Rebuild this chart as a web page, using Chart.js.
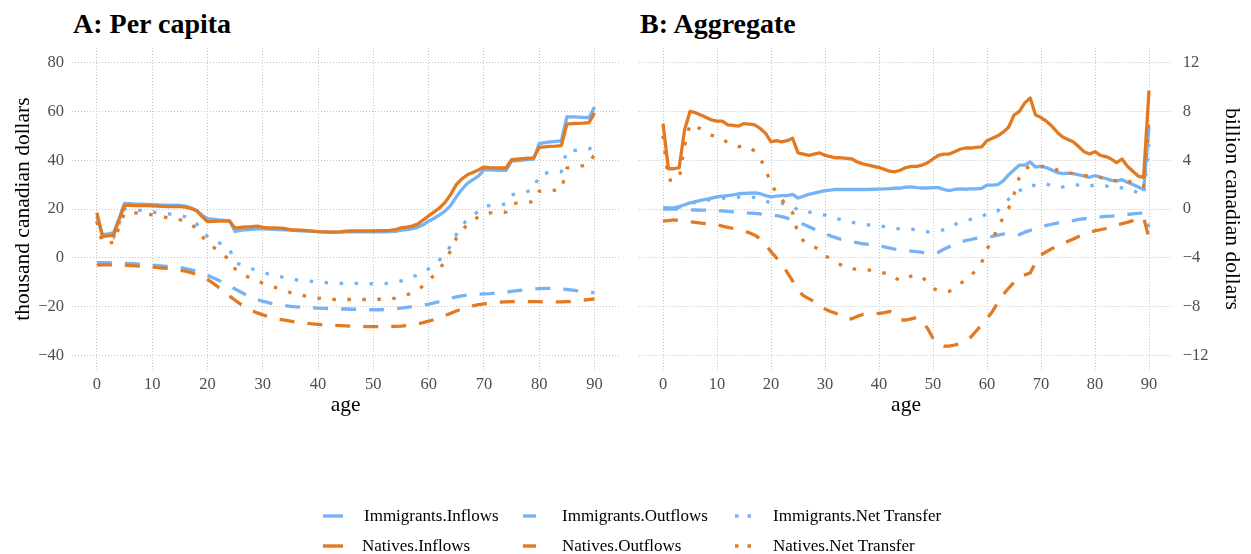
<!DOCTYPE html>
<html>
<head>
<meta charset="utf-8">
<script src="https://cdn.jsdelivr.net/npm/chart.js@4.4.1/dist/chart.umd.min.js"></script>
<style>
  html, body { margin: 0; padding: 0; background: #fff; }
  body { width: 1251px; height: 554px; position: relative; overflow: hidden;
         font-family: 'Liberation Serif', 'DejaVu Serif', serif; }
  canvas { position: absolute; top: 0; }
  #cA { left: 0; }
  #cB { left: 625px; }
  .ptitle { position: absolute; top: 10px; font-size: 28px; font-weight: bold; line-height: 28px; color: #000; white-space: nowrap; }
  .leg { position: absolute; font-size: 17px; line-height: 20px; height: 20px; color: #000; white-space: nowrap; }
  svg.key { position: absolute; left: 0; top: 0; }
</style>
</head>
<body>
<div class="ptitle" style="left:73px">A: Per capita</div>
<div class="ptitle" style="left:640px">B: Aggregate</div>
<canvas id="cA" width="625" height="420"></canvas>
<canvas id="cB" width="626" height="420"></canvas>

<svg class="key" width="1251" height="554">
  <g stroke-width="3.4" fill="none">
    <line x1="323" y1="516" x2="343" y2="516" stroke="#75b3f5"/>
    <line x1="323" y1="546" x2="343" y2="546" stroke="#e27a22"/>
    <line x1="523" y1="516" x2="541" y2="516" stroke="#75b3f5" stroke-dasharray="13 20"/>
    <line x1="523" y1="546" x2="541" y2="546" stroke="#e27a22" stroke-dasharray="13 20"/>
    <line x1="735" y1="516" x2="755" y2="516" stroke="#75b3f5" stroke-dasharray="3.5 9"/>
    <line x1="735" y1="546" x2="755" y2="546" stroke="#e27a22" stroke-dasharray="3.5 9"/>
  </g>
</svg>
<div class="leg" style="left:364px; top:506px">Immigrants.Inflows</div>
<div class="leg" style="left:362px; top:536px">Natives.Inflows</div>
<div class="leg" style="left:562px; top:506px">Immigrants.Outflows</div>
<div class="leg" style="left:562px; top:536px">Natives.Outflows</div>
<div class="leg" style="left:773px; top:506px">Immigrants.Net Transfer</div>
<div class="leg" style="left:773px; top:536px">Natives.Net Transfer</div>

<script>
// ---- ages ----
const ages = [
  0, 1, 2, 3, 4, 5, 6, 7, 8, 9,
  10, 11, 12, 13, 14, 15, 16, 17, 18, 19,
  20, 21, 22, 23, 24, 25, 26, 27, 28, 29,
  30, 31, 32, 33, 34, 35, 36, 37, 38, 39,
  40, 41, 42, 43, 44, 45, 46, 47, 48, 49,
  50, 51, 52, 53, 54, 55, 56, 57, 58, 59,
  60, 61, 62, 63, 64, 65, 66, 67, 68, 69,
  70, 71, 72, 73, 74, 75, 76, 77, 78, 79,
  80, 81, 82, 83, 84, 85, 86, 87, 88, 89,
  90
];

// ---- panel A: per capita, thousand canadian dollars ----
const pcImmInflows = [
  17, 9.5, 9.8, 10.2, 16, 22.3, 22.2, 22, 22, 21.9,
  21.8, 21.7, 21.6, 21.6, 21.6, 21.5, 21.2, 20.5, 19.5, 17.5,
  16, 15.8, 15.5, 15.3, 15.2, 10.8, 11.2, 11.5, 11.7, 11.9,
  11.9, 11.8, 11.7, 11.6, 11.5, 11.3, 11.1, 11, 10.9, 10.8,
  10.7, 10.6, 10.5, 10.5, 10.5, 10.6, 10.6, 10.6, 10.6, 10.6,
  10.6, 10.6, 10.6, 10.7, 10.8, 11.3, 11.6, 11.9, 12.5, 13.5,
  15, 16.2, 17.6, 19.2, 21.5, 25, 28, 30.5, 32, 33.5,
  36, 36, 35.9, 35.8, 35.8, 39.6, 39.8, 40, 40.2, 40.5,
  46.8, 47.2, 47.5, 47.7, 47.9, 57.8, 57.8, 57.7, 57.6, 57.4,
  61.8
];
const pcNatInflows = [
  18.5, 8.8, 9, 9.2, 15.5, 21.5, 21.5, 21.4, 21.4, 21.4,
  21.3, 21.2, 21.1, 21, 21, 21, 20.8, 20.2, 19.3, 17,
  14.8, 14.9, 15, 15, 15, 12.2, 12.5, 12.7, 12.8, 13,
  12.5, 12.3, 12.3, 12.2, 12, 11.5, 11.4, 11.3, 11.1, 10.9,
  10.7, 10.6, 10.5, 10.5, 10.6, 10.9, 11, 11, 11, 11,
  11, 11.1, 11.1, 11.2, 11.5, 12.3, 12.6, 13, 13.8, 15.5,
  17.2, 18.8, 20.5, 22.8, 26, 30, 32.3, 34, 35, 36,
  37.2, 37, 36.9, 36.8, 36.8, 40.2, 40.4, 40.6, 40.8, 41,
  45.3, 45.5, 45.7, 45.8, 46, 54.8, 55, 55.1, 55.2, 55.4,
  59.4
];
const pcImmOutflows = [
  -2, -2, -2, -2.1, -2.2, -2.3, -2.4, -2.5, -2.6, -2.8,
  -3, -3.2, -3.4, -3.6, -3.8, -4, -4.4, -4.9, -5.5, -6.3,
  -7.2, -8.2, -9.2, -10.4, -11.6, -12.8, -14, -15.2, -16.2, -17.1,
  -17.8, -18.4, -18.9, -19.3, -19.6, -19.9, -20.1, -20.3, -20.4, -20.5,
  -20.6, -20.7, -20.8, -20.9, -21, -21, -21.1, -21.1, -21.2, -21.2,
  -21.3, -21.3, -21.2, -21.1, -20.9, -20.6, -20.3, -20, -19.7, -19.4,
  -19, -18.5, -17.9, -17.2, -16.6, -16, -15.6, -15.3, -15.1, -14.9,
  -14.8, -14.7, -14.5, -14.3, -14.1, -13.8, -13.5, -13.2, -13, -12.8,
  -12.6, -12.5, -12.5, -12.6, -12.8, -13, -13.3, -13.6, -13.9, -14.1,
  -14.3
];
const pcNatOutflows = [
  -3, -2.9, -2.9, -2.9, -3, -3.1, -3.2, -3.3, -3.4, -3.6,
  -3.8, -4, -4.2, -4.4, -4.7, -5.1, -5.5, -6.1, -6.8, -7.7,
  -8.9, -10.4, -12.1, -13.9, -15.7, -17.4, -19, -20.4, -21.6, -22.6,
  -23.4, -24.1, -24.7, -25.2, -25.6, -26, -26.3, -26.6, -26.9, -27.1,
  -27.3, -27.5, -27.6, -27.7, -27.8, -27.9, -28, -28.1, -28.1, -28.2,
  -28.2, -28.2, -28.2, -28.2, -28.1, -28, -27.8, -27.5, -27.1, -26.6,
  -26, -25.3, -24.5, -23.6, -22.7, -21.8, -21, -20.3, -19.7, -19.2,
  -18.9, -18.6, -18.4, -18.2, -18.1, -18, -18, -18, -18, -18,
  -18, -18.1, -18.1, -18.1, -18.1, -18, -17.9, -17.7, -17.4, -17.1,
  -16.8
];
const pcImmNet = [
  15, 7.5, 7.8, 8.1, 13.8, 20, 19.8, 19.5, 19.4, 19.1,
  18.8, 18.5, 18.2, 18, 17.8, 17.5, 16.8, 15.6, 14, 11.2,
  8.8, 7.6, 6.3, 4.9, 3.6, -2, -2.8, -3.7, -4.5, -5.2,
  -5.9, -6.6, -7.2, -7.7, -8.1, -8.6, -9, -9.3, -9.5, -9.7,
  -9.9, -10.1, -10.3, -10.4, -10.5, -10.4, -10.5, -10.5, -10.6, -10.6,
  -10.7, -10.7, -10.6, -10.4, -10.1, -9.5, -8.8, -7.9, -7, -6.2,
  -4.5, -2.8, -0.8, 1.5, 5, 9.5, 13, 15.8, 17.5, 19,
  21.2, 21.4, 21.6, 21.8, 22, 25.8, 26.3, 26.8, 27.3, 27.8,
  34.2, 34.6, 35, 35.2, 35.3, 44, 44, 44.1, 44.3, 44.6,
  45.8
];
const pcNatNet = [
  15, 6, 6, 6.3, 12.5, 18.4, 18.4, 18.4, 18.2, 17.9,
  17.6, 17.1, 16.7, 16.4, 16, 15.6, 14.9, 13.8, 12, 9,
  6, 4.5, 2.7, 0.9, -0.7, -4.6, -6.2, -7.5, -8.6, -9.4,
  -10.4, -11.2, -12, -12.6, -13.3, -14.3, -14.8, -15.3, -15.8, -16.2,
  -16.5, -16.8, -17, -17.1, -17.1, -17.1, -17.1, -17.1, -17.1, -17.1,
  -17.1, -17, -17, -16.9, -16.5, -15.7, -15.2, -14.5, -13.3, -11.5,
  -9.5, -7, -4.5, -1.2, 3, 8, 11, 13.7, 15.3, 16.8,
  18.2, 18.4, 18.5, 18.6, 18.7, 22.2, 22.4, 22.6, 22.8, 23,
  27.3, 27.4, 27.6, 27.7, 27.9, 36.8, 37.1, 37.4, 37.8, 38.3,
  42.6
];

// ---- panel B: aggregate, billion canadian dollars ----
const agImmInflows = [
  0.1, 0.1, 0.1, 0.2, 0.35, 0.5, 0.6, 0.7, 0.8, 0.9,
  1.0, 1.05, 1.1, 1.15, 1.25, 1.28, 1.3, 1.32, 1.25, 1.1,
  1.0, 1.05, 1.1, 1.1, 1.2, 0.9, 1.05, 1.2, 1.3, 1.4,
  1.5, 1.55, 1.6, 1.6, 1.6, 1.6, 1.6, 1.6, 1.6, 1.62,
  1.63, 1.65, 1.67, 1.7, 1.72, 1.8, 1.82, 1.75, 1.72, 1.72,
  1.75, 1.75, 1.6, 1.5, 1.6, 1.65, 1.62, 1.65, 1.65, 1.7,
  1.95, 1.95, 2.0, 2.3, 2.8, 3.2, 3.6, 3.6, 3.85, 3.45,
  3.5, 3.4, 3.2, 3.0, 2.9, 2.95, 2.9, 2.8, 2.7, 2.6,
  2.75, 2.6, 2.5, 2.35, 2.3, 2.4, 2.2, 2.0, 1.8, 1.6,
  6.7
];
const agNatInflows = [
  7, 3.3, 3.3, 3.4, 6.5, 8, 7.9, 7.7, 7.5, 7.3,
  7.2, 7.2, 6.9, 6.85, 6.8, 7, 6.95, 6.9, 6.6, 6.2,
  5.5, 5.6, 5.5, 5.6, 5.8, 4.6, 4.5, 4.4, 4.5, 4.6,
  4.4, 4.3, 4.2, 4.2, 4.15, 4.1, 3.85, 3.7, 3.6, 3.5,
  3.4, 3.25, 3.1, 3.05, 3.2, 3.4, 3.5, 3.5, 3.6, 3.8,
  4.1, 4.4, 4.5, 4.5, 4.7, 4.9, 5.0, 5.0, 5.05, 5.1,
  5.6, 5.8, 6.0, 6.3, 6.7, 7.7, 8.0, 8.7, 9.1, 7.7,
  7.5, 7.2, 6.8, 6.3, 5.9, 5.7, 5.5, 5.1, 4.7, 4.5,
  4.7, 4.4, 4.3, 4.1, 3.8, 4.1, 3.5, 3.1, 2.7, 2.6,
  9.7
];
const agImmOutflows = [
  0, 0, 0, -0.02, -0.05, -0.07, -0.08, -0.1, -0.1, -0.12,
  -0.14, -0.16, -0.2, -0.23, -0.26, -0.3, -0.33, -0.36, -0.4, -0.45,
  -0.5, -0.55, -0.62, -0.75, -0.9, -1.05, -1.25, -1.45, -1.65, -1.85,
  -2.0, -2.2, -2.35, -2.5, -2.6, -2.7, -2.75, -2.85, -2.9, -2.95,
  -3.0, -3.1, -3.2, -3.3, -3.35, -3.4, -3.45, -3.5, -3.55, -3.6,
  -3.6, -3.55, -3.3, -3.1, -2.9, -2.7, -2.6, -2.5, -2.4, -2.35,
  -2.3, -2.25, -2.15, -2.05, -2.0, -2.05, -2.1, -1.9, -1.75, -1.6,
  -1.45, -1.35, -1.25, -1.15, -1.05, -1.0, -0.95, -0.85, -0.8, -0.75,
  -0.7, -0.65, -0.6, -0.58, -0.55, -0.5, -0.45, -0.4, -0.35, -0.3,
  -1.5
];
const agNatOutflows = [
  -1, -0.95, -0.9, -0.95, -1, -1.05, -1.1, -1.15, -1.2, -1.25,
  -1.3, -1.4, -1.5, -1.6, -1.7, -1.8, -1.95, -2.15, -2.45, -2.9,
  -3.5, -4.0, -4.5, -5.2, -5.9, -6.7, -7.1, -7.35, -7.6, -7.95,
  -8.2, -8.4, -8.55, -8.8, -9.0, -9.0, -8.8, -8.65, -8.6, -8.55,
  -8.55, -8.5, -8.4, -8.7, -9.1, -9.1, -9.0, -8.9, -9.2, -9.8,
  -10.6, -11.1, -11.25, -11.25, -11.15, -11.05, -10.8, -10.5, -10.0, -9.5,
  -9.0, -8.4, -7.7, -7.0, -6.5, -6.0, -5.55, -5.4, -5.25, -4.4,
  -3.75, -3.5, -3.25, -3.05, -2.85, -2.65, -2.45, -2.25, -2.05, -1.9,
  -1.8, -1.7, -1.6, -1.45, -1.3, -1.2, -1.1, -0.95, -0.8, -0.7,
  -2.4
];
const agImmNet = [
  0.1, 0.1, 0.1, 0.15, 0.3, 0.45, 0.55, 0.6, 0.7, 0.8,
  0.85, 0.9, 0.9, 0.92, 0.98, 0.98, 0.97, 0.95, 0.85, 0.65,
  0.5, 0.5, 0.48, 0.35, 0.3, -0.15, -0.2, -0.25, -0.35, -0.45,
  -0.5, -0.65, -0.75, -0.9, -1.0, -1.1, -1.15, -1.25, -1.3, -1.33,
  -1.37, -1.45, -1.53, -1.6, -1.63, -1.6, -1.63, -1.75, -1.83, -1.88,
  -1.85, -1.8, -1.7, -1.6, -1.3, -1.05, -0.98, -0.85, -0.75, -0.65,
  -0.35, -0.3, -0.15, 0.25, 0.8, 1.15, 1.5, 1.7, 2.0, 1.9,
  2.05, 2.05, 1.9, 1.75, 1.8, 1.95, 2.0, 1.95, 1.9, 1.85,
  2.0, 1.95, 1.9, 1.75, 1.65, 1.75, 1.7, 1.55, 1.3, 1.1,
  5.3
];
const agNatNet = [
  6, 2.35, 2.4, 2.45, 5.2, 6.95, 6.8, 6.55, 6.3, 6.05,
  5.9, 5.8, 5.4, 5.25, 5.1, 5.2, 5.0, 4.75, 4.15, 3.3,
  2.0, 1.4, 0.8, 0.2, -0.3, -2.1, -2.6, -2.95, -3.1, -3.35,
  -3.8, -4.1, -4.35, -4.6, -4.85, -4.9, -4.95, -4.95, -5.0, -5.05,
  -5.15, -5.25, -5.3, -5.65, -5.9, -5.7, -5.5, -5.4, -5.6, -6.0,
  -6.5, -6.7, -6.75, -6.75, -6.45, -6.15, -5.8, -5.5, -4.95, -4.4,
  -3.3, -2.5, -1.5, -0.7, 0.05, 1.2, 2.6, 3.3, 3.5, 3.45,
  3.5, 3.5, 3.4, 3.2, 3.0, 2.95, 2.9, 2.8, 2.75, 2.7,
  2.75, 2.6, 2.5, 2.4, 2.3, 2.4, 2.3, 2.15, 1.95, 1.85,
  7.3
];

// ---- tick labels ----
const ageTicks = [0, 10, 20, 30, 40, 50, 60, 70, 80, 90];
const pcTicks = [-40, -20, 0, 20, 40, 60, 80];
const agTicks = [-12, -8, -4, 0, 4, 8, 12];

// ---- styling ----
const BLUE = '#75b3f5';
const ORANGE = '#e27a22';
const SOLID = [];
const DASHED = [15, 13];
const DOTTED = [3.5, 11.5];
const SERIF = "'Liberation Serif', 'DejaVu Serif', serif";
const TICK_FONT = { family: SERIF, size: 16.5 };
const TITLE_FONT = { family: SERIF, size: 21.5 };
const GRID = { color: '#c4c4c4', lineWidth: 1, drawTicks: false };
// in Chart.js v4 the grid line dash comes from the border options
const BORDER = { display: false, dash: [1, 2] };

Chart.defaults.font.family = SERIF;
Chart.defaults.devicePixelRatio = 1;

const minus = v => String(v).replace('-', '\u2212');

function series(label, values, color, dash, order) {
  return {
    label,
    data: ages.map((a, i) => ({ x: a, y: values[i] })),
    borderColor: color,
    backgroundColor: color,
    borderWidth: 3.3,
    borderDash: dash,
    borderCapStyle: 'butt',
    borderJoinStyle: 'round',
    pointRadius: 0,
    tension: 0,
    fill: false,
    order
  };
}

function fixedTicks(list) {
  return scale => { scale.ticks = list.map(v => ({ value: v })); };
}

function xScale() {
  return {
    type: 'linear', min: -4.5, max: 94.5,
    afterBuildTicks: fixedTicks(ageTicks),
    afterFit: s => { s.height = 50; },
    grid: GRID, border: BORDER,
    ticks: { padding: 5, color: '#4d4d4d', font: TICK_FONT, callback: v => minus(v) },
    title: { display: true, text: 'age', color: '#000', font: TITLE_FONT, padding: { top: 0, bottom: 2 } }
  };
}

function baseOptions(padding, yScale) {
  return {
    responsive: false,
    animation: false,
    events: [],
    layout: { padding },
    plugins: { legend: { display: false }, tooltip: { enabled: false }, title: { display: false } },
    scales: { x: xScale(), y: yScale }
  };
}

new Chart(document.getElementById('cA'), {
  type: 'line',
  data: {
    datasets: [
      series('Immigrants.Inflows', pcImmInflows, BLUE, SOLID, 1),
      series('Immigrants.Outflows', pcImmOutflows, BLUE, DASHED, 1),
      series('Immigrants.Net Transfer', pcImmNet, BLUE, DOTTED, 1),
      series('Natives.Inflows', pcNatInflows, ORANGE, SOLID, 0),
      series('Natives.Outflows', pcNatOutflows, ORANGE, DASHED, 0),
      series('Natives.Net Transfer', pcNatNet, ORANGE, DOTTED, 0)
    ]
  },
  options: baseOptions({ top: 48, left: 0, right: 5.6, bottom: 0 }, {
    type: 'linear', position: 'left', min: -46, max: 86,
    afterBuildTicks: fixedTicks(pcTicks),
    afterFit: s => { s.width = 72; },
    grid: GRID, border: BORDER,
    ticks: { padding: 8, color: '#4d4d4d', font: TICK_FONT, callback: v => minus(v) },
    title: { display: true, text: 'thousand canadian dollars', color: '#000', font: TITLE_FONT, padding: { top: 10, bottom: 0 } }
  })
});

new Chart(document.getElementById('cB'), {
  type: 'line',
  data: {
    datasets: [
      series('Immigrants.Inflows', agImmInflows, BLUE, SOLID, 1),
      series('Immigrants.Outflows', agImmOutflows, BLUE, DASHED, 1),
      series('Immigrants.Net Transfer', agImmNet, BLUE, DOTTED, 1),
      series('Natives.Inflows', agNatInflows, ORANGE, SOLID, 0),
      series('Natives.Outflows', agNatOutflows, ORANGE, DASHED, 0),
      series('Natives.Net Transfer', agNatNet, ORANGE, DOTTED, 0)
    ]
  },
  options: baseOptions({ top: 48, left: 13.7, right: 0, bottom: 0 }, {
    type: 'linear', position: 'right', min: -13.2, max: 13.2,
    afterBuildTicks: fixedTicks(agTicks),
    afterFit: s => { s.width = 77.7; },
    grid: GRID, border: BORDER,
    ticks: { padding: 9.4, color: '#4d4d4d', font: TICK_FONT, callback: v => minus(v) },
    title: { display: true, text: 'billion canadian dollars', color: '#000', font: TITLE_FONT, padding: { top: 6.4, bottom: 0 } }
  })
});
</script>
</body>
</html>
